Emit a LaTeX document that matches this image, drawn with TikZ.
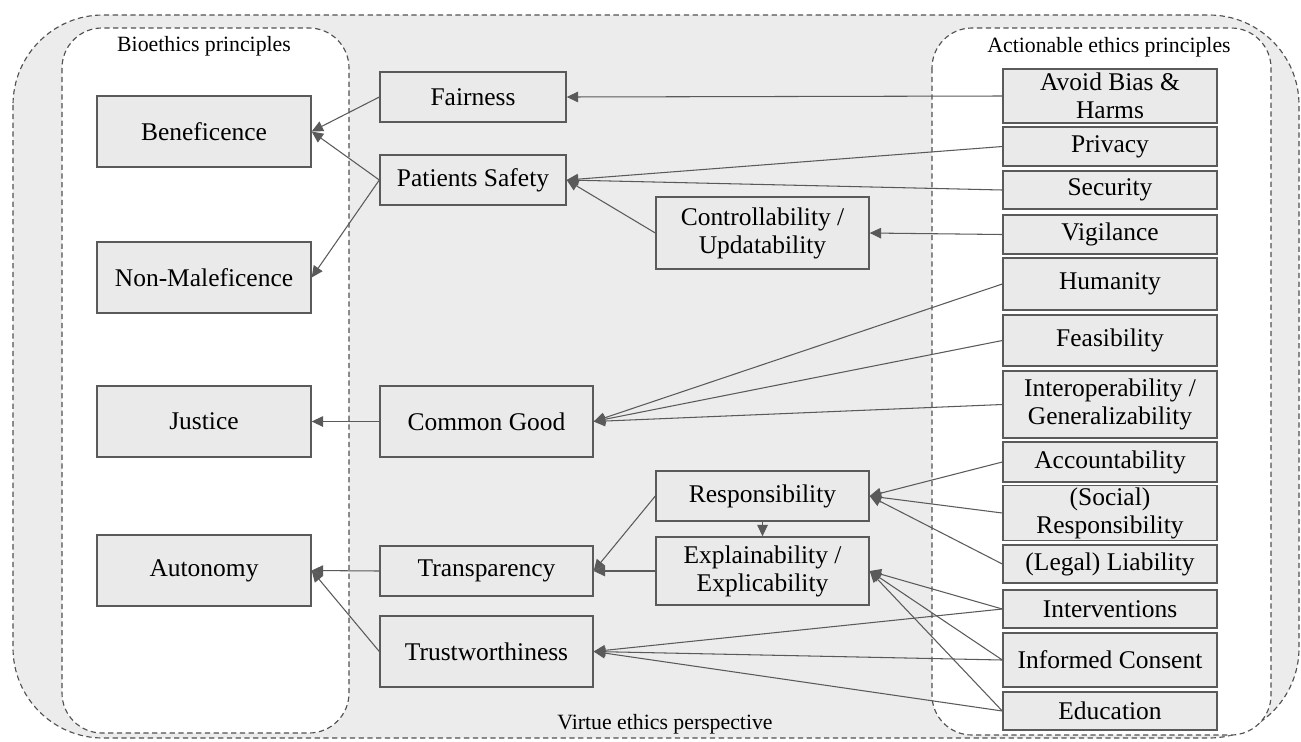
\documentclass[tikz,border=0pt]{standalone}
\usepackage{fontspec}
\setmainfont{Liberation Serif}
\usetikzlibrary{arrows.meta}
\definecolor{panelgray}{HTML}{ECECEC}
\definecolor{boxgray}{HTML}{EAEAEA}
\definecolor{linegray}{HTML}{5A5A5A}
\tikzset{
  box/.style={draw=linegray, line width=0.8pt, fill=boxgray, align=center, inner sep=1pt,
    font=\fontsize{14.5}{16}\selectfont},
  link/.style={draw=linegray, line width=0.6pt, -{Triangle[length=6.5pt,width=6pt]}},
  panel/.style={draw=linegray!90!black, line width=0.65pt, dash pattern=on 3pt off 2pt},
  caption/.style={font=\fontsize{12.4}{14}\selectfont}
}
\begin{document}
\begin{tikzpicture}[x=0.02cm,y=-0.02cm]
\useasboundingbox (0,0) rectangle (1301,741);
\draw[panel, fill=panelgray, rounded corners=1.8cm] (13,15) rectangle (1299,738);
\draw[panel, fill=white, rounded corners=0.8cm] (62,28) rectangle (349,733);
\draw[panel, fill=white, rounded corners=0.8cm] (932,28) rectangle (1271,735);
\node[caption] (bio) at (204,46) {Bioethics principles};
\node[caption] (act) at (1109,47) {Actionable ethics principles};
\node[caption] (virtue) at (665,724) {Virtue ethics perspective};
% bioethics principles
\node[box, minimum width=4.28cm, minimum height=1.42cm] (benef) at (204,131.5) {Beneficence};
\node[box, minimum width=4.28cm, minimum height=1.42cm] (nonmal) at (204,277.5) {Non-Maleficence};
\node[box, minimum width=4.28cm, minimum height=1.42cm] (justice) at (204,421.5) {Justice};
\node[box, minimum width=4.28cm, minimum height=1.42cm] (autonomy) at (204,570.5) {Autonomy};
% virtues
\node[box, minimum width=3.72cm, minimum height=1.0cm] (fairness) at (473,97) {Fairness};
\node[box, minimum width=3.72cm, minimum height=1.0cm] (safety) at (473,180) {Patients Safety};
\node[box, minimum width=4.26cm, minimum height=1.44cm] (control) at (762.5,233) {Controllability /\\Updatability};
\node[box, minimum width=4.26cm, minimum height=1.42cm] (common) at (486.5,421.5) {Common Good};
\node[box, minimum width=4.26cm, minimum height=1.0cm] (respons) at (762.5,496) {Responsibility};
\node[box, minimum width=4.26cm, minimum height=1.36cm] (explain) at (762.5,571) {Explainability /\\Explicability};
\node[box, minimum width=4.26cm, minimum height=1.0cm] (transp) at (486.5,571) {Transparency};
\node[box, minimum width=4.26cm, minimum height=1.42cm] (trust) at (486.5,651.5) {Trustworthiness};
% actionable principles
\node[box, minimum width=4.28cm, minimum height=1.08cm] (avoid) at (1110,96) {Avoid Bias \&\\Harms};
\node[box, minimum width=4.28cm, minimum height=0.78cm] (privacy) at (1110,146.5) {Privacy};
\node[box, minimum width=4.28cm, minimum height=0.76cm] (security) at (1110,190) {Security};
\node[box, minimum width=4.28cm, minimum height=0.78cm] (vigil) at (1110,234.5) {Vigilance};
\node[box, minimum width=4.28cm, minimum height=1.04cm] (humanity) at (1110,284) {Humanity};
\node[box, minimum width=4.28cm, minimum height=1.02cm] (feasib) at (1110,340.5) {Feasibility};
\node[box, minimum width=4.28cm, minimum height=1.34cm] (interop) at (1110,404.5) {Interoperability /\\Generalizability};
\node[box, minimum width=4.28cm, minimum height=0.8cm] (account) at (1110,462) {Accountability};
\node[box, minimum width=4.28cm, minimum height=1.08cm] (social) at (1110,513) {(Social)\\Responsibility};
\node[box, minimum width=4.28cm, minimum height=0.76cm] (legal) at (1110,564) {(Legal) Liability};
\node[box, minimum width=4.28cm, minimum height=0.76cm] (interv) at (1110,609) {Interventions};
\node[box, minimum width=4.28cm, minimum height=1.08cm] (consent) at (1110,660) {Informed Consent};
\node[box, minimum width=4.28cm, minimum height=0.76cm] (educ) at (1110,711) {Education};
% links
\draw[link] (fairness.west) -- (benef.east);
\draw[link] (safety.west) -- (benef.east);
\draw[link] (safety.west) -- (nonmal.east);
\draw[link] (avoid.west) -- (fairness.east);
\draw[link] (privacy.west) -- (safety.east);
\draw[link] (security.west) -- (safety.east);
\draw[link] (control.west) -- (safety.east);
\draw[link] (vigil.west) -- (control.east);
\draw[link] (humanity.west) -- (common.east);
\draw[link] (feasib.west) -- (common.east);
\draw[link] (interop.west) -- (common.east);
\draw[link] (common.west) -- (justice.east);
\draw[link] (account.west) -- (respons.east);
\draw[link] (social.west) -- (respons.east);
\draw[link] (legal.west) -- (respons.east);
\draw[link] (respons.south) -- (explain.north);
\draw[link] (respons.west) -- (transp.east);
\draw[link] (explain.west) -- (transp.east);
\draw[link] (transp.west) -- (autonomy.east);
\draw[link] (trust.west) -- (autonomy.east);
\draw[link] (interv.west) -- (explain.east);
\draw[link] (consent.west) -- (explain.east);
\draw[link] (educ.west) -- (explain.east);
\draw[link] (interv.west) -- (trust.east);
\draw[link] (consent.west) -- (trust.east);
\draw[link] (educ.west) -- (trust.east);
\end{tikzpicture}
\end{document}
